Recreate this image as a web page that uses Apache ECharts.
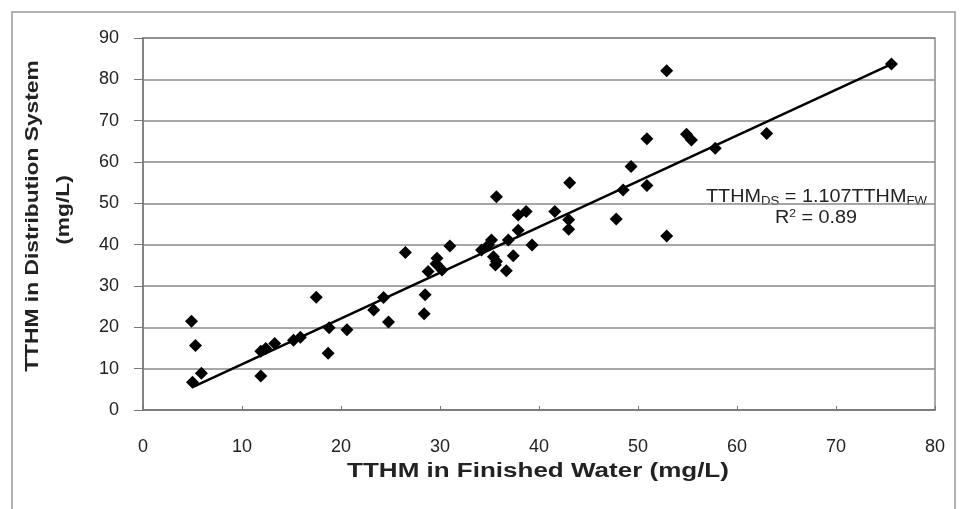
<!DOCTYPE html>
<html><head><meta charset="utf-8">
<script src="https://cdn.jsdelivr.net/npm/echarts@6/dist/echarts.min.js"></script>
<style>html,body{margin:0;padding:0;background:#fff}#c{width:962px;height:509px}</style>
</head><body><div id="c"></div>
<script>
const xTicks = [0,10,20,30,40,50,60,70,80];
const yTicks = [0,10,20,30,40,50,60,70,80,90];
const xTitle = 'TTHM in Finished Water (mg/L)';
const yTitle = ['TTHM in Distribution System','(mg/L)'];
const finishedWater = [4.9,5.3,5.0,5.9,11.9,11.9,12.4,13.3,15.2,15.9,17.5,18.8,18.7,20.6,23.3,24.3,24.8,26.5,28.5,28.4,28.8,29.7,29.6,30.2,31.0,34.2,34.9,35.2,35.7,35.4,35.7,35.6,36.7,37.4,36.9,37.9,37.9,38.7,39.3,41.6,43.0,43.0,43.1,47.8,48.5,49.3,50.9,50.9,52.9,52.9,54.9,55.4,57.8,63.0,75.6];
const distribution = [21.5,15.6,6.7,8.9,8.2,14.2,14.9,16.1,16.9,17.6,27.3,19.9,13.7,19.4,24.2,27.2,21.3,38.1,27.9,23.3,33.5,36.7,35.4,33.9,39.7,38.7,39.9,41.1,51.6,37.1,35.9,35.1,33.7,37.3,41.1,43.5,47.2,48.0,39.9,48.0,46.0,43.7,55.0,46.2,53.2,58.9,54.3,65.6,82.1,42.1,66.7,65.3,63.3,66.9,83.7];
const slope = 1.107;
const rSquared = '0.89';
const fitRange = [5.0, 75.6];

const pts = finishedWater.map((x,i)=>[x, distribution[i]]);
const fit = fitRange.map(x=>[x, +(slope*x).toFixed(3)]);

const chart = echarts.init(document.getElementById('c'), null, {renderer:'canvas'});
const font = 'Liberation Sans, Arial, sans-serif';
chart.setOption({
  animation:false,
  backgroundColor:'#fff',
  grid:{left:143,right:27,top:38,bottom:99,show:true,borderColor:'#8a8a8a',borderWidth:1.5},
  xAxis:{type:'value',min:xTicks[0],max:xTicks[xTicks.length-1],interval:10,
    axisLine:{show:true,lineStyle:{color:'#777',width:1.5}},
    axisTick:{show:true,inside:true,length:4,lineStyle:{color:'#777'}},
    splitLine:{show:false},
    axisLabel:{color:'#222',fontFamily:font,fontSize:18,margin:28}},
  yAxis:{type:'value',min:yTicks[0],max:yTicks[yTicks.length-1],interval:10,
    axisLine:{show:true,lineStyle:{color:'#777',width:1.5}},
    axisTick:{show:true,length:9,lineStyle:{color:'#777'}},
    splitLine:{show:true,lineStyle:{color:'#8a8a8a',width:1.5}},
    axisLabel:{color:'#222',fontFamily:font,fontSize:18,margin:24}},
  series:[
    {type:'scatter',data:pts,symbol:'diamond',symbolSize:13,itemStyle:{color:'#000',opacity:1},z:3},
    {type:'line',data:fit,symbol:'none',lineStyle:{color:'#000',width:2.5},z:2}
  ],
  graphic:[
    {type:'rect',shape:{x:12,y:12,width:943,height:520},style:{fill:'none',stroke:'#999',lineWidth:1.5},silent:true},
    {type:'text',x:538,y:471,scaleX:1.3,style:{text:xTitle,font:'bold 20px '+font,fill:'#222',align:'center',verticalAlign:'middle'}},
    {type:'text',x:33,y:216,rotation:Math.PI/2,scaleX:1.2,style:{text:yTitle[0],font:'bold 19px '+font,fill:'#222',align:'center',verticalAlign:'middle'}},
    {type:'text',x:64,y:210,rotation:Math.PI/2,scaleX:1.2,style:{text:yTitle[1],font:'bold 19px '+font,fill:'#222',align:'center',verticalAlign:'middle'}},
    {type:'text',x:706,y:186,scaleX:1.1,style:{
      text:'{m|TTHM}{s|DS}{m| = '+slope+'TTHM}{s|FW}',
      rich:{m:{fontFamily:font,fontSize:18,fill:'#222'},s:{fontFamily:font,fontSize:12,fill:'#222',padding:[10,0,0,0]}}}},
    {type:'text',x:775,y:208,scaleX:1.1,style:{
      text:'{m|R}{p|2}{m| = '+rSquared+'}',
      rich:{m:{fontFamily:font,fontSize:18,fill:'#222'},p:{fontFamily:font,fontSize:11,fill:'#222',padding:[0,0,9,0]}}}}
  ]
});
</script></body></html>
